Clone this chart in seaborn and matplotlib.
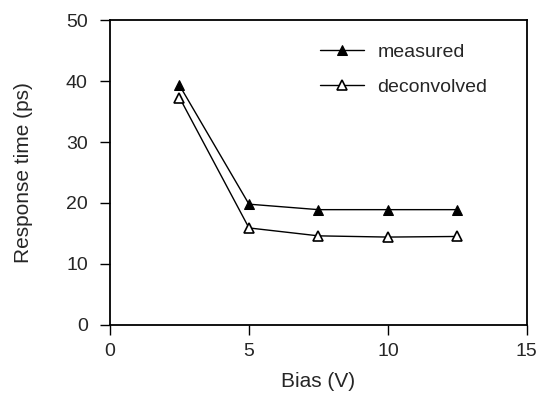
import matplotlib

matplotlib.use("Agg")
import matplotlib.pyplot as plt
import pandas as pd
import seaborn as sns

bias = [2.5, 5, 7.5, 10, 12.5]
measured = [39.3, 19.8, 18.9, 18.9, 18.9]
deconvolved = [37.3, 15.9, 14.6, 14.4, 14.5]

df = pd.DataFrame({"bias": bias, "measured": measured, "deconvolved": deconvolved})

sns.set_style("ticks")
plt.rcParams["font.family"] = ["Liberation Sans", "DejaVu Sans"]

fig = plt.figure(figsize=(5.42, 4.03), dpi=100)
ax = fig.add_axes([0.203, 0.194, 0.769, 0.756])

sns.lineplot(data=df, x="bias", y="measured", ax=ax, color="black", lw=1,
             marker="^", markersize=7.5, markerfacecolor="black",
             markeredgecolor="black", label="measured")
sns.lineplot(data=df, x="bias", y="deconvolved", ax=ax, color="black", lw=1,
             marker="^", markersize=7.5, markerfacecolor="white",
             markeredgecolor="black", markeredgewidth=1.2, label="deconvolved")

ax.set_xlim(0, 15)
ax.set_ylim(0, 50)
ax.set_xticks([0, 5, 10, 15])
ax.set_yticks(range(0, 51, 10))
ax.set_xlabel("Bias (V)", fontsize=15)
ax.set_ylabel("Response time (ps)", fontsize=15)
ax.xaxis.set_label_coords(0.5, -0.155)
ax.yaxis.set_label_coords(-0.185, 0.5)
ax.tick_params(labelsize=14, direction="out", length=7, width=1, color="black")
ax.tick_params(axis="y", pad=9)
ax.tick_params(axis="x", pad=6)
for s in ax.spines.values():
    s.set_visible(True)
    s.set_color("black")
    s.set_linewidth(1.3)

ax.legend(loc="upper left", bbox_to_anchor=(0.484, 0.95), frameon=False,
          fontsize=14, handlelength=2.3, handletextpad=0.67,
          borderaxespad=0, labelspacing=0.9)

fig.savefig("out.png", dpi=100)
